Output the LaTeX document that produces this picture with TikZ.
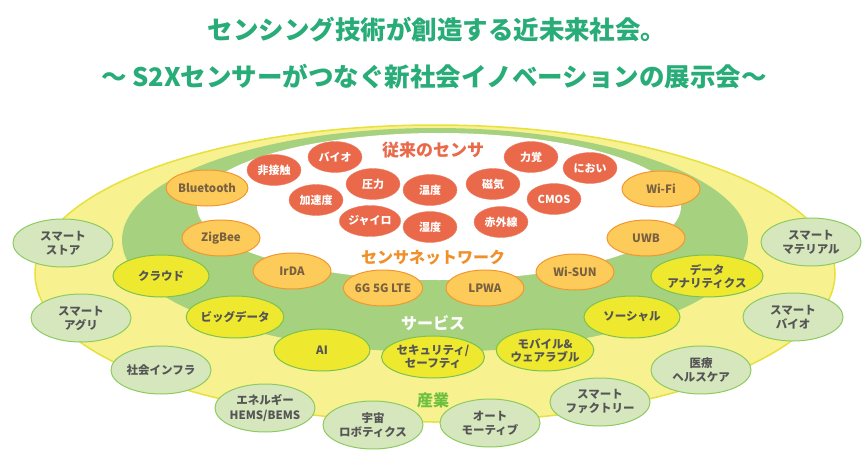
\documentclass[tikz,border=0pt]{standalone}
\usepackage{fontspec}
\setmainfont{Noto Sans CJK JP}
\usetikzlibrary{shapes}

\definecolor{titlegreen}{RGB}{40,172,120}
\definecolor{outeryellow}{RGB}{247,241,143}
\definecolor{outerline}{RGB}{232,224,60}
\definecolor{bandgreen}{RGB}{166,209,127}
\definecolor{sensorred}{RGB}{233,105,74}
\definecolor{netfill}{RGB}{253,203,90}
\definecolor{netline}{RGB}{243,150,47}
\definecolor{nettext}{RGB}{120,96,64}
\definecolor{svcfill}{RGB}{238,232,46}
\definecolor{svcline}{RGB}{125,194,79}
\definecolor{indfill}{RGB}{214,231,190}
\definecolor{indline}{RGB}{141,203,96}
\definecolor{darktext}{RGB}{85,85,85}
\definecolor{labelorange}{RGB}{240,144,42}
\definecolor{labelgreen}{RGB}{109,191,63}

\tikzstyle{title} = [text=titlegreen, font=\bfseries\fontsize{25.5}{27}\selectfont]
\tikzstyle{ring} = [font=\bfseries\fontsize{16}{18}\selectfont]
\tikzstyle{sensor} = [ellipse, draw=sensorred!85!white, fill=sensorred, text=white,
    minimum width=54pt, minimum height=31pt, inner sep=0pt, font=\bfseries\fontsize{11}{13}\selectfont]
\tikzstyle{network} = [ellipse, draw=netline, line width=1pt, fill=netfill, text=nettext,
    minimum width=78pt, minimum height=36pt, inner sep=0pt, font=\bfseries\fontsize{11.5}{13}\selectfont]
\tikzstyle{service} = [ellipse, draw=svcline, line width=1pt, fill=svcfill, text=darktext, align=center,
    minimum width=96pt, minimum height=42pt, inner sep=0pt, font=\bfseries\fontsize{11.5}{13}\selectfont]
\tikzstyle{industry} = [ellipse, draw=indline, line width=1pt, fill=indfill, text=darktext, align=center,
    minimum width=100pt, minimum height=48pt, inner sep=0pt, font=\bfseries\fontsize{11.5}{14}\selectfont]

\begin{document}
\begin{tikzpicture}[x=1pt, y=-1pt]
		\useasboundingbox (0,0) rectangle (868,471);
		\fill [white] (0,0) rectangle (868,471);

		\node [title] (title1) at (437,30) {センシング技術が創造する近未来社会。};
		\node [title] (title2) at (434,77) {～ S2Xセンサーがつなぐ新社会イノベーションの展示会～};

		\filldraw [fill=outeryellow, draw=outerline, line width=1.5pt] (435,273.5) ellipse [x radius=400, y radius=148.5];
		\fill [bandgreen] (435,240) ellipse [x radius=313, y radius=112];
		\fill [white] (439,206.5) ellipse [x radius=242, y radius=73.5];

		\node [ring, text=sensorred, font=\bfseries\fontsize{17}{19}\selectfont] (lsensor) at (433,150) {従来のセンサ};
		\node [ring, text=labelorange] (lnet) at (433,258) {センサネットワーク};
		\node [ring, text=white] (lservice) at (433,323) {サービス};
		\node [ring, text=labelgreen] (lindustry) at (433,400) {産業};

		\node [sensor] (hisesshoku) at (274,170) {非接触};
		\node [sensor] (bio) at (335,157) {バイオ};
		\node [sensor] (kasokudo) at (316,200) {加速度};
		\node [sensor] (atsuryoku) at (373,184) {圧力};
		\node [sensor] (gyro) at (370,221) {ジャイロ};
		\node [sensor] (ondo) at (430,190) {温度};
		\node [sensor] (shitsudo) at (430,227) {湿度};
		\node [sensor] (jiki) at (493,184) {磁気};
		\node [sensor] (sekigai) at (501,222) {赤外線};
		\node [sensor] (rikikaku) at (531,157) {力覚};
		\node [sensor] (nioi) at (590,168) {におい};
		\node [sensor] (cmos) at (554,199) {CMOS};

		\node [network] (bluetooth) at (207,188) {Bluetooth};
		\node [network] (zigbee) at (221,238) {ZigBee};
		\node [network] (irda) at (292,271) {IrDA};
		\node [network] (lte) at (383,288) {6G 5G LTE};
		\node [network] (lpwa) at (485,288) {LPWA};
		\node [network] (wisun) at (575,272) {Wi-SUN};
		\node [network] (uwb) at (646,238) {UWB};
		\node [network] (wifi) at (661,189) {Wi-Fi};

		\node [service] (cloud) at (161,276) {クラウド};
		\node [service] (bigdata) at (235,317) {ビッグデータ};
		\node [service] (ai) at (322,350) {AI};
		\node [service] (security) at (433,357) {セキュリティ/\\セーフティ};
		\node [service] (mobile) at (545,350) {モバイル\&\\ウェアラブル};
		\node [service] (social) at (632,317) {ソーシャル};
		\node [service] (analytics) at (707,276) {データ\\アナリティクス};

		\node [industry] (store) at (63,243) {スマート\\ストア};
		\node [industry] (agri) at (81,318) {スマート\\アグリ};
		\node [industry] (infra) at (161,370) {社会インフラ};
		\node [industry] (energy) at (265,408) {エネルギー\\HEMS/BEMS};
		\node [industry] (space) at (373,425) {宇宙\\ロボティクス};
		\node [industry] (auto) at (490,423) {オート\\モーティブ};
		\node [industry] (factory) at (600,402) {スマート\\ファクトリー};
		\node [industry] (health) at (701,370) {医療\\ヘルスケア};
		\node [industry] (smartbio) at (793,317) {スマート\\バイオ};
		\node [industry] (material) at (811,242) {スマート\\マテリアル};
	\end{tikzpicture}
\end{document}
